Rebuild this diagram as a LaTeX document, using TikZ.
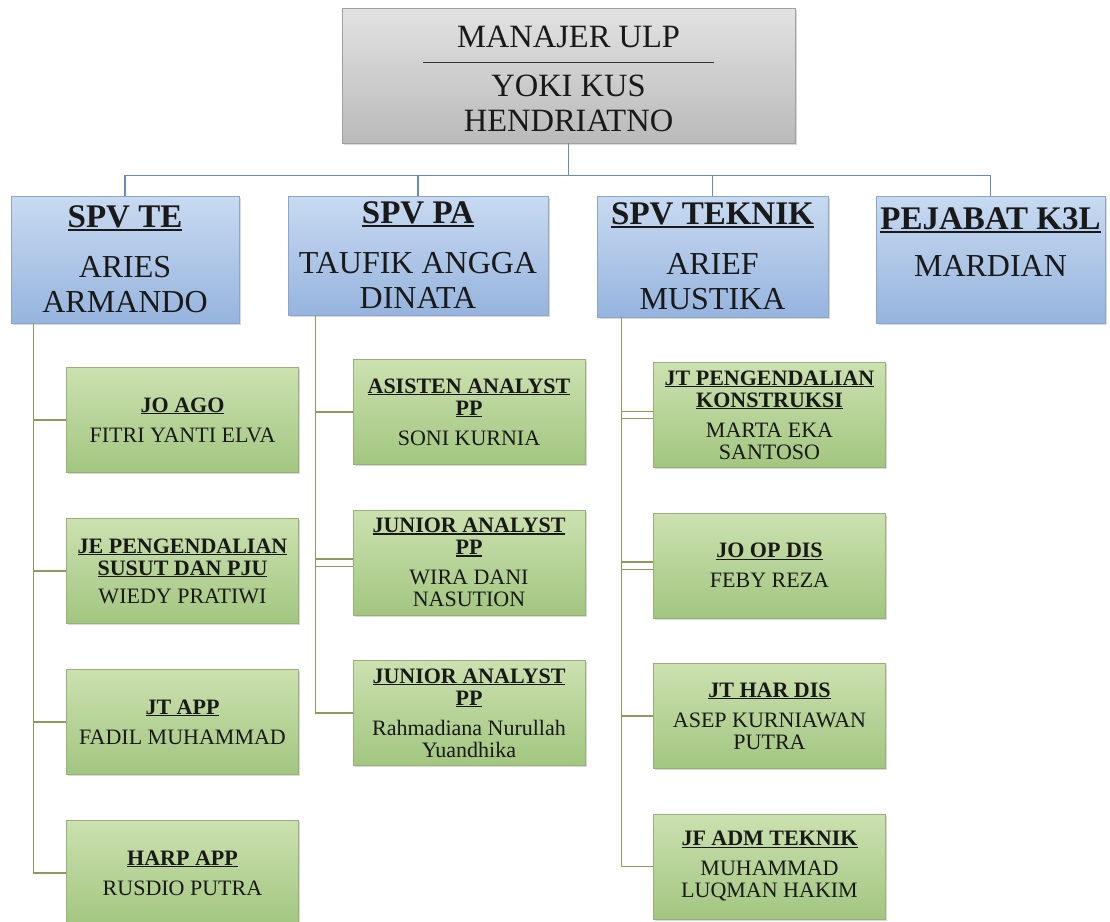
\documentclass[tikz,border=0pt]{standalone}
\usepackage{fontspec}
\setmainfont{Liberation Serif}
\usetikzlibrary{positioning,shadows}

\definecolor{mgrtop}{RGB}{226,226,226}
\definecolor{mgrbot}{RGB}{186,186,186}
\definecolor{mgredge}{RGB}{160,160,160}
\definecolor{spvtop}{RGB}{200,218,241}
\definecolor{spvbot}{RGB}{150,180,222}
\definecolor{spvedge}{RGB}{140,165,205}
\definecolor{stafftop}{RGB}{204,225,176}
\definecolor{staffbot}{RGB}{162,198,128}
\definecolor{staffedge}{RGB}{150,178,120}
\definecolor{linkblue}{RGB}{100,140,190}
\definecolor{linkolive}{RGB}{140,155,90}

% underlined title line
\newcommand{\uln}[1]{\leavevmode\setbox0\hbox{#1}\rlap{\rule[-0.1em]{\wd0}{0.065em}}\box0}
\newcommand{\spvtitle}[1]{\uln{\fontsize{33}{35}\selectfont\textbf{#1}}}

\begin{document}
\begin{tikzpicture}[
  x=1pt, y=-1pt,
  mgrbox/.style={rectangle, draw=mgredge, line width=0.8pt, top color=mgrtop, bottom color=mgrbot, minimum width=453pt, minimum height=135pt, inner sep=0pt, align=center, text=black!90, font=\fontsize{32.5}{35}\selectfont, drop shadow={shadow xshift=1.5pt, shadow yshift=-1.5pt, opacity=0.3}},
  spvbox/.style={rectangle, draw=spvedge, line width=0.8pt, top color=spvtop, bottom color=spvbot, inner sep=0pt, align=center, text=black!90, font=\fontsize{32}{35}\selectfont, drop shadow={shadow xshift=1.5pt, shadow yshift=-1.5pt, opacity=0.3}},
  staffbox/.style={rectangle, draw=staffedge, line width=0.8pt, top color=stafftop, bottom color=staffbot, minimum width=232pt, minimum height=105pt, inner sep=0pt, align=center, text=black!90, font=\fontsize{22}{22}\selectfont, drop shadow={shadow xshift=1.5pt, shadow yshift=-1.5pt, opacity=0.3}},
  toplink/.style={draw=linkblue, line width=1.2pt},
  stafflink/.style={draw=linkolive, line width=1.3pt},
  node distance=151pt
]
\useasboundingbox (0,0) rectangle (1110,921);

\node[mgrbox] (mgr) at (568.5,75.5) {\rule{0pt}{29pt}MANAJER ULP\\[14pt]YOKI KUS\\HENDRIATNO};
\draw[line width=1.5pt, black!80] ([xshift=-145.5pt,yshift=-55pt]mgr.north) -- ([xshift=145.5pt,yshift=-55pt]mgr.north);

\node[spvbox, minimum width=228pt, minimum height=127pt] (te) at (125,259.5) {\spvtitle{SPV TE}\\[15pt]ARIES\\ARMANDO};
\node[spvbox, minimum width=260pt, minimum height=119pt] (pa) at (418,255.5) {\spvtitle{SPV PA}\\[15pt]TAUFIK ANGGA\\DINATA};
\node[spvbox, minimum width=231pt, minimum height=121pt] (tek) at (712.5,256.5) {\spvtitle{SPV TEKNIK}\\[15pt]ARIEF\\MUSTIKA};
\node[spvbox, minimum width=229pt, minimum height=127pt] (k3l) at (990.5,259.5) {\spvtitle{PEJABAT K3L}\\[12pt]MARDIAN\\\phantom{M}};

% SPV TE staff
\node[staffbox] (joago) at (182.5,420) {\uln{\textbf{JO AGO}}\\[8pt]FITRI YANTI ELVA};
\node[staffbox, below of=joago] (jepeng) {\uln{\textbf{JE PENGENDALIAN}}\\\uln{\textbf{SUSUT DAN PJU}}\\[6pt]WIEDY PRATIWI};
\node[staffbox, below of=jepeng] (jtapp) {\uln{\textbf{JT APP}}\\[8pt]FADIL MUHAMMAD};
\node[staffbox, below of=jtapp] (harp) {\uln{\textbf{HARP APP}}\\[8pt]RUSDIO PUTRA};

% SPV PA staff
\node[staffbox] (asis) at (469,412) {\uln{\textbf{ASISTEN ANALYST}}\\\uln{\textbf{PP}}\\[8pt]SONI KURNIA};
\node[staffbox, below of=asis, node distance=150.5pt] (jrpp) {\uln{\textbf{JUNIOR ANALYST}}\\\uln{\textbf{PP}}\\[8pt]WIRA DANI\\NASUTION};
\node[staffbox, below of=jrpp, node distance=150.5pt] (jrppb) {\uln{\textbf{JUNIOR ANALYST}}\\\uln{\textbf{PP}}\\[8pt]Rahmadiana Nurullah\\Yuandhika};

% SPV TEKNIK staff
\node[staffbox] (jtkons) at (769.5,415) {\uln{\textbf{JT PENGENDALIAN}}\\\uln{\textbf{KONSTRUKSI}}\\[8pt]MARTA EKA\\SANTOSO};
\node[staffbox, below of=jtkons, node distance=150.5pt] (joopdis) {\uln{\textbf{JO OP DIS}}\\[8pt]FEBY REZA};
\node[staffbox, below of=joopdis, node distance=150.5pt] (jthar) {\uln{\textbf{JT HAR DIS}}\\[8pt]ASEP KURNIAWAN\\PUTRA};
\node[staffbox, below of=jthar, node distance=150.5pt] (jfadm) {\uln{\textbf{JF ADM TEKNIK}}\\[8pt]MUHAMMAD\\LUQMAN HAKIM};

% Connectors
\foreach \s in {te,pa,tek,k3l}
  \draw[toplink] (mgr.south) -- ++(0,32) -| (\s.north);

\coordinate (tedrop) at ([xshift=23pt]te.south west);
\coordinate (padrop) at ([xshift=28pt]pa.south west);
\coordinate (tekdrop) at ([xshift=25pt]tek.south west);

\draw[stafflink, double=white, double distance=6pt] (padrop |- jrpp.west) -- (jrpp.west);
\foreach \s in {jtkons,joopdis}
  \draw[stafflink, double=white, double distance=6pt] (tekdrop |- \s.west) -- (\s.west);

\foreach \s in {joago,jepeng,jtapp,harp}
  \draw[stafflink] (tedrop) |- (\s.west);
\foreach \s in {asis,jrppb}
  \draw[stafflink] (padrop) |- (\s.west);
\foreach \s in {jthar,jfadm}
  \draw[stafflink] (tekdrop) |- (\s.west);
\end{tikzpicture}
\end{document}
